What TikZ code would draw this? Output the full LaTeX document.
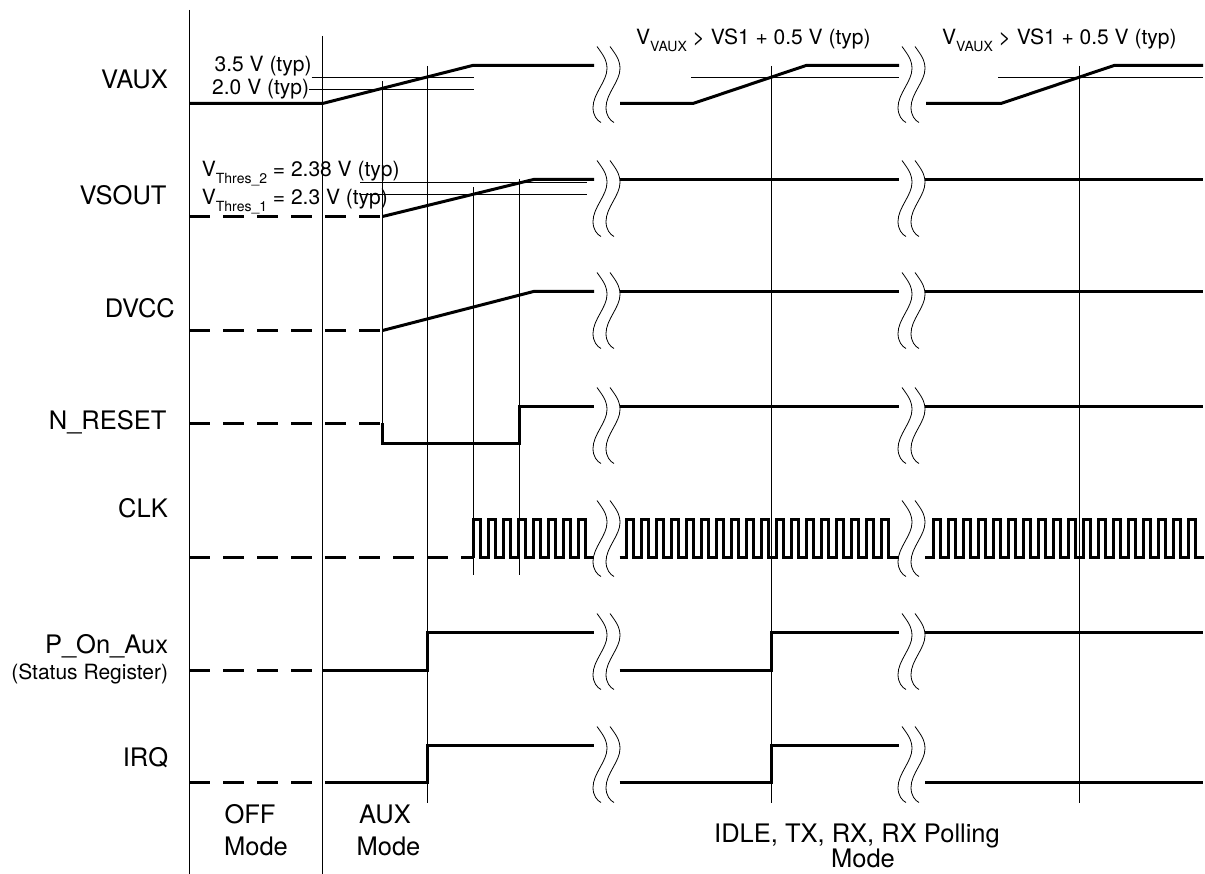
\documentclass[tikz,border=0pt]{standalone}
\usepackage{fontspec}
\setmainfont{TeX Gyre Heros}
\usepackage{tikz}

\tikzset{
  sig/.style={line width=3pt},
  dsig/.style={sig, dash pattern=on 21pt off 13pt},
  grid/.style={line width=1pt},
  brk/.style={line width=0.8pt},
  lbl/.style={font=\fontsize{25.5}{30}\selectfont, anchor=base east, inner sep=0pt},
  note/.style={font=\fontsize{21}{25}\selectfont, inner sep=0pt},
  mode/.style={font=\fontsize{25.5}{30}\selectfont, anchor=base, inner sep=0pt}
}
% lowered small text for the V subscripts
\newcommand{\subtxt}[1]{\raisebox{-6.5pt}{\fontsize{14}{15}\selectfont #1}}
% double wavy break mark
\newcommand{\wavebreak}[2]{%
  \draw[brk, shift={(#1,#2)}] (3,-19) .. controls (8,-12) and (13,-6) .. (13,3)
    .. controls (13,16) and (-1,28) .. (-1,42) .. controls (-1,50) and (3,55) .. (7,57);
  \draw[brk, shift={(#1+13,#2)}] (3,-19) .. controls (8,-12) and (13,-6) .. (13,3)
    .. controls (13,16) and (-1,28) .. (-1,42) .. controls (-1,50) and (3,55) .. (7,57);
}

\begin{document}
\begin{tikzpicture}[x=1pt,y=-1pt]
\useasboundingbox (0,0) rectangle (1205,874);

% time markers
\draw[grid] (189.5,10)--(189.5,874);
\draw[grid] (322.5,36)--(322.5,874);
\draw[grid] (382.5,81)--(382.5,443);
\draw[grid] (427.5,66)--(427.5,803);
\draw[grid] (473.5,187)--(473.5,575);
\draw[grid] (519.5,179)--(519.5,575);
\draw[grid] (771.5,66)--(771.5,803);
\draw[grid] (1079.5,66)--(1079.5,803);

% threshold levels
\draw[grid] (311.7,77.5)--(473.5,77.5);
\draw[grid] (309.3,89.5)--(473.5,89.5);
\draw[grid] (360,182.5)--(586.7,182.5);
\draw[grid] (360,194.5)--(586.7,194.5);
\draw[grid] (691,77.5)--(899,77.5);
\draw[grid] (998,77.5)--(1203,77.5);

% VAUX
\draw[sig] (189,103.5)--(322.5,103.5)--(472.5,65.5)--(594,65.5);
\draw[sig] (620,103.5)--(693,103.5)--(806,65.5)--(899,65.5);
\draw[sig] (926,103.5)--(1001,103.5)--(1114,65.5)--(1203,65.5);

% VSOUT
\draw[dsig] (189,216.5)--(382.5,216.5);
\draw[sig] (382.5,216.5)--(533.5,179.5)--(594,179.5);
\draw[sig] (619.5,179.5)--(899,179.5);
\draw[sig] (925,179.5)--(1203,179.5);

% DVCC
\draw[dsig] (189,330.5)--(382.5,330.5);
\draw[sig] (382.5,330.5)--(533.5,291.5)--(594,291.5);
\draw[sig] (619.5,291.5)--(899,291.5);
\draw[sig] (925,291.5)--(1203,291.5);

% N_RESET
\draw[dsig] (189,423.5)--(382.5,423.5);
\draw[sig] (382.5,423.5)--(382.5,443.5)--(519.5,443.5)--(519.5,406.5)--(594,406.5);
\draw[sig] (619.5,406.5)--(899,406.5);
\draw[sig] (925,406.5)--(1203,406.5);

% CLK
\draw[dsig] (189,557.5)--(473.5,557.5);
\draw[sig] (473.5,557.5) \foreach \k in {0,...,7} {--++(0,-38)--++(7,0)--++(0,38)--++(8,0)};
\draw[sig] (619.5,557.5)--(626.5,557.5) \foreach \k in {0,...,17} {--++(0,-38)--++(7,0)--++(0,38)--++(8,0)} --(899,557.5);
\draw[sig] (925,557.5)--(933.5,557.5) \foreach \k in {0,...,17} {--++(0,-38)--++(7,0)--++(0,38)--++(8,0)};

% P_On_Aux
\draw[dsig] (189,670.5)--(322.5,670.5);
\draw[sig] (322.5,670.5)--(427.5,670.5)--(427.5,632.5)--(594,632.5);
\draw[sig] (619.5,670.5)--(771.5,670.5)--(771.5,632.5)--(899,632.5);
\draw[sig] (925,632.5)--(1203,632.5);

% IRQ
\draw[dsig] (189,782.5)--(322.5,782.5);
\draw[sig] (325,782.5)--(427.5,782.5)--(427.5,745.5)--(594,745.5);
\draw[sig] (619.5,782.5)--(771.5,782.5)--(771.5,745.5)--(899,745.5);
\draw[sig] (925,782.5)--(1203,782.5);

% breaks
\foreach \by in {65.5,179.5,291.5,406.5,519.5,632.5,745.5} {
  \wavebreak{594}{\by}
  \wavebreak{899}{\by}
}

% signal names
\node[lbl] (vaux) at (168,89) {VAUX};
\node[lbl] (vsout) at (166.7,205) {VSOUT};
\node[lbl] (dvcc) at (175,318) {DVCC};
\node[lbl] (nreset) at (166.7,429) {N\_RESET};
\node[lbl] (clk) at (168,517) {CLK};
\node[lbl] (ponaux) at (168.3,653) {P\_On\_Aux};
\node[lbl, font=\fontsize{21}{25}\selectfont] (status) at (168.3,679) {(Status Register)};
\node[lbl] (irq) at (168.3,766) {IRQ};

% level notes
\node[note, anchor=base east] (v35) at (311.7,71.7) {3.5 V (typ)};
\node[note, anchor=base east] (v20) at (309.3,95) {2.0 V (typ)};
\node[note, anchor=base west] (thr2) at (201.7,177) {V\subtxt{Thres\_2} = 2.38 V (typ)};
\node[note, anchor=base west] (thr1) at (201.7,205) {V\subtxt{Thres\_1} = 2.3 V (typ)};
\node[note, anchor=base west] (vs1a) at (636,45) {V\subtxt{VAUX} > VS1 + 0.5 V (typ)};
\node[note, anchor=base west] (vs1b) at (942,45) {V\subtxt{VAUX} > VS1 + 0.5 V (typ)};

% modes
\node[mode] (off1) at (250,823) {OFF};
\node[mode] (off2) at (256,855) {Mode};
\node[mode] (aux1) at (385,823) {AUX};
\node[mode] (aux2) at (388.5,855) {Mode};
\node[mode] (idle1) at (857,842) {IDLE, TX, RX, RX Polling};
\node[mode] (idle2) at (863,867) {Mode};
\end{tikzpicture}
\end{document}
